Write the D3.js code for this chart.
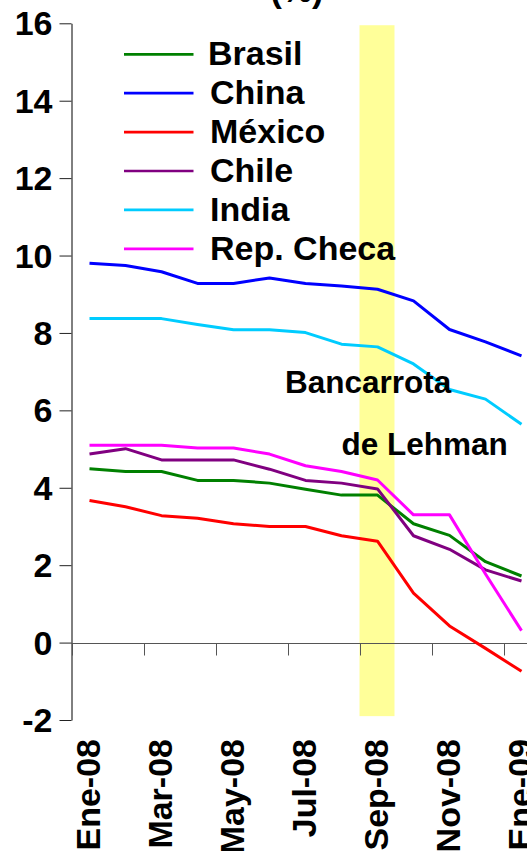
<!DOCTYPE html>
<html>
<head>
<meta charset="utf-8">
<script src="https://cdn.jsdelivr.net/npm/d3@7"></script>
<style>
  html, body { margin: 0; padding: 0; background: #fff; }
  svg { display: block; }
  text { font-family: "Liberation Sans", Arial, sans-serif; font-weight: bold; fill: #000; }
</style>
</head>
<body>
<svg id="chart" width="527" height="851"></svg>
<script>
// ---- Data ----
const months = ["Ene-08","Feb-08","Mar-08","Abr-08","May-08","Jun-08","Jul-08","Ago-08","Sep-08","Oct-08","Nov-08","Dic-08","Ene-09"];
const tickLabels = ["Ene-08","Mar-08","May-08","Jul-08","Sep-08","Nov-08","Ene-09"];
const yTicks = [-2, 0, 2, 4, 6, 8, 10, 12, 14, 16];
const seriesNames = ["Brasil","China","México","Chile","India","Rep. Checa"];
const brasil   = [4.49, 4.42, 4.42, 4.19, 4.19, 4.12, 3.96, 3.81, 3.81, 3.07, 2.77, 2.09, 1.72];
const china    = [9.80, 9.74, 9.58, 9.28, 9.28, 9.42, 9.28, 9.21, 9.13, 8.83, 8.09, 7.77, 7.41];
const mexico   = [3.67, 3.51, 3.28, 3.21, 3.07, 3.00, 3.00, 2.76, 2.62, 1.28, 0.43, -0.15, -0.74];
const chile    = [4.87, 5.01, 4.72, 4.72, 4.72, 4.48, 4.19, 4.12, 3.97, 2.76, 2.41, 1.88, 1.59];
const india    = [8.37, 8.37, 8.37, 8.22, 8.08, 8.08, 8.01, 7.71, 7.64, 7.20, 6.54, 6.29, 5.64];
const repCheca = [5.10, 5.10, 5.10, 5.03, 5.03, 4.87, 4.57, 4.42, 4.20, 3.30, 3.30, 1.77, 0.31];
const seriesValues = [brasil, china, mexico, chile, india, repCheca];
const seriesColors = ["#008000", "#0000FF", "#FF0000", "#800080", "#00CCFF", "#FF00FF"];
const highlightMonth = "Sep-08";
const annotation = ["Bancarrota", "de Lehman"];
const unitLabel = "(%)";

// ---- Scales ----
const svg = d3.select("#chart");
const x = d3.scaleBand().domain(months).range([71.5, 71.5 + 13 * 36]).paddingInner(0).paddingOuter(0);
const y = d3.scaleLinear().domain([-2, 16]).range([720, 23.3]);
const cx = m => x(m) + x.bandwidth() / 2;

// ---- Highlight band ----
svg.append("rect")
  .attr("x", x(highlightMonth))
  .attr("y", y(15.95))
  .attr("width", x.bandwidth() - 1)
  .attr("height", y(-1.9) - y(15.95))
  .attr("fill", "#FFFF99");

// ---- Y axis ----
const yAxis = svg.append("g")
  .attr("transform", "translate(71.5,0)")
  .call(d3.axisLeft(y).tickValues(yTicks).tickSize(12).tickSizeOuter(0).tickPadding(7)
    .tickFormat(d => String(d)));
yAxis.select(".domain").attr("stroke", "#000").attr("stroke-width", 1);
yAxis.selectAll(".tick line").attr("stroke", "#222");
yAxis.selectAll(".tick text")
  .style("font-family", "'Liberation Sans', Arial, sans-serif")
  .style("font-weight", "bold")
  .style("font-size", "34px")
  .attr("fill", "#000")
  .attr("dy", "0.34em");

// ---- X axis (at zero) ----
const xAxis = svg.append("g")
  .attr("transform", `translate(0,${Math.round(y(0)) + 0.5})`)
  .call(d3.axisBottom(x).tickValues(tickLabels).tickSize(12).tickSizeOuter(0).tickFormat(""));
xAxis.select(".domain").remove();
xAxis.selectAll(".tick").attr("transform", d => `translate(${Math.round(x(d)) + 0.5},0)`);
xAxis.selectAll(".tick line").attr("stroke", "#555");
xAxis.append("line")
  .attr("x1", 71.5).attr("x2", 527).attr("y1", 0).attr("y2", 0)
  .attr("stroke", "#555").attr("stroke-width", 1);

// ---- X labels ----
svg.append("g").selectAll("text")
  .data(tickLabels)
  .join("text")
  .attr("transform", d => `translate(${cx(d) - 0.5},739) rotate(-90)`)
  .attr("text-anchor", "end")
  .attr("dy", "0.33em")
  .style("font-size", "34px")
  .text(d => d);

// ---- Lines ----
const line = d3.line()
  .x((d, i) => cx(months[i]))
  .y(d => y(d));
svg.append("g").selectAll("path")
  .data(seriesValues)
  .join("path")
  .attr("d", d => line(d))
  .attr("fill", "none")
  .attr("stroke", (d, i) => seriesColors[i])
  .attr("stroke-width", 3)
  .attr("stroke-linejoin", "round");

// ---- Legend ----
const legend = svg.append("g");
seriesNames.forEach((name, i) => {
  const ly = 54.3 + i * 38.9;
  legend.append("line")
    .attr("x1", 124).attr("x2", 193.5)
    .attr("y1", ly).attr("y2", ly)
    .attr("stroke", seriesColors[i]).attr("stroke-width", 2.7);
  legend.append("text")
    .attr("x", i === 0 ? 208 : 210)
    .attr("y", ly + 11)
    .style("font-size", "34px")
    .text(name);
});

// ---- Annotation ----
svg.append("text").attr("x", 285).attr("y", 393.3).style("font-size", "31.5px").text(annotation[0]);
svg.append("text").attr("x", 341.5).attr("y", 455).style("font-size", "31.5px").text(annotation[1]);

// ---- Unit label (cut at top, as in the reference) ----
svg.append("text").attr("x", 297).attr("y", 2).attr("text-anchor", "middle").style("font-size", "34px").text(unitLabel);
</script>
</body>
</html>
